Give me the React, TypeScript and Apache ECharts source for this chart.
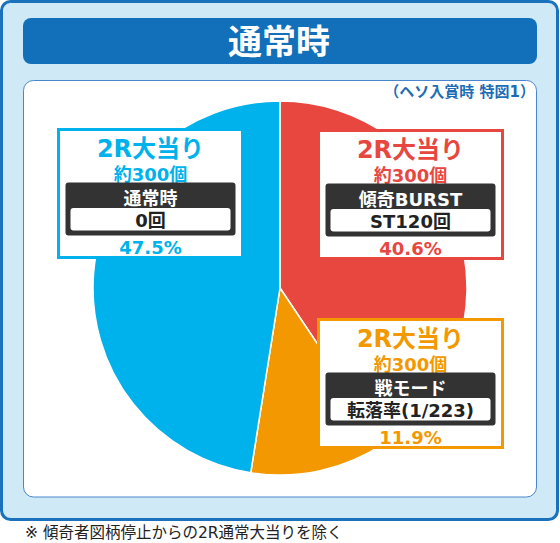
import React, { useEffect, useRef } from "react";
import * as echarts from "echarts";

// ---- data ----
const categories = ["傾奇BURST", "戦モード", "通常時"];
const percentages = [40.6, 11.9, 47.5];
const prizeLabels = ["2R大当り", "2R大当り", "2R大当り"];
const payoutLabels = ["約300個", "約300個", "約300個"];
const detailLabels = ["ST120回", "転落率(1/223)", "0回"];
const titleText = "通常時";
const subtitleText = "（ヘソ入賞時 特図1）";
const footnoteText = "※ 傾奇者図柄停止からの2R通常大当りを除く";

// ---- styles / layout ----
const sliceColors = ["#e8473f", "#f39800", "#00b2eb"];
const boxOrigins = [
  [317, 129],
  [317, 318],
  [57, 128],
];
const FONT = '"DejaVu Sans", "Noto Sans CJK JP", sans-serif';
const CJK = '"Noto Sans CJK JP", sans-serif';
const BOX_W = 187;
const BOX_H = 131;

function txt(z: number, x: number, y: number, text: string, fill: string, font: string, align = "center") {
  return {
    type: "text",
    z,
    x,
    y,
    style: { text, fill, font, textAlign: align, textVerticalAlign: "middle" },
  };
}

function labelBox(i: number) {
  const [x, y] = boxOrigins[i];
  const c = sliceColors[i];
  const z = 10;
  const cx = BOX_W / 2;
  return {
    type: "group",
    x,
    y,
    z,
    children: [
      {
        type: "rect",
        z,
        shape: { x: 1.5, y: 1.5, width: BOX_W - 3, height: BOX_H - 3 },
        style: { fill: "#ffffff", stroke: c, lineWidth: 3 },
      },
      txt(z + 1, cx, 20.5, prizeLabels[i], c, `bold 24px ${FONT}`),
      txt(z + 1, cx, 46, payoutLabels[i], c, `bold 18px ${FONT}`),
      {
        type: "rect",
        z: z + 1,
        shape: { x: 8.5, y: 54.5, width: 170, height: 53, r: 3 },
        style: { fill: "#333333" },
      },
      txt(z + 2, cx, 70, categories[i], "#ffffff", `bold 18px ${FONT}`),
      {
        type: "rect",
        z: z + 2,
        shape: { x: 13.5, y: 80, width: 160, height: 22.5, r: 3 },
        style: { fill: "#ffffff" },
      },
      txt(z + 3, cx, 92.5, detailLabels[i], "#222222", `bold 18px ${FONT}`),
      txt(z + 4, cx, 119, `${percentages[i].toFixed(1)}%`, c, `bold 18px ${FONT}`),
    ],
  };
}

export default function App() {
  const ref = useRef<HTMLDivElement>(null);
  useEffect(() => {
    document.body.style.margin = "0";
    if (!ref.current) return;
    const chart = echarts.init(ref.current, undefined, { renderer: "svg" });
    chart.setOption({
      animation: false,
      backgroundColor: "#ffffff",
      graphic: [
        {
          type: "rect",
          z: 0,
          shape: { x: 1.5, y: 1.5, width: 556, height: 518, r: 9 },
          style: { fill: "#cfe9f7", stroke: "#1a72bc", lineWidth: 3 },
        },
        {
          type: "rect",
          z: 0,
          shape: { x: 23, y: 18, width: 514, height: 46, r: 8 },
          style: { fill: "#1170b9" },
        },
        txt(1, 279, 39.5, titleText, "#ffffff", `bold 34px ${CJK}`),
        {
          type: "rect",
          z: 0,
          shape: { x: 23.5, y: 80.5, width: 513, height: 416.5, r: 10 },
          style: { fill: "#ffffff", stroke: "#4a86cc", lineWidth: 1 },
        },
        txt(1, 535, 91.5, subtitleText, "#1c6db5", `bold 15px ${FONT}`, "right"),
        txt(1, 25, 533, footnoteText, "#222222", `15.5px ${FONT}`, "left"),
        ...categories.map((_, i) => labelBox(i)),
      ],
      series: [
        {
          type: "pie",
          z: 2,
          center: [280, 288],
          radius: 187,
          startAngle: 90,
          clockwise: true,
          silent: true,
          label: { show: false },
          labelLine: { show: false },
          itemStyle: { borderColor: "#ffffff", borderWidth: 1.5 },
          data: categories.map((name, i) => ({
            name,
            value: percentages[i],
            itemStyle: { color: sliceColors[i] },
          })),
        },
      ],
    });
    return () => chart.dispose();
  }, []);
  return <div ref={ref} style={{ width: 560, height: 543 }} />;
}
